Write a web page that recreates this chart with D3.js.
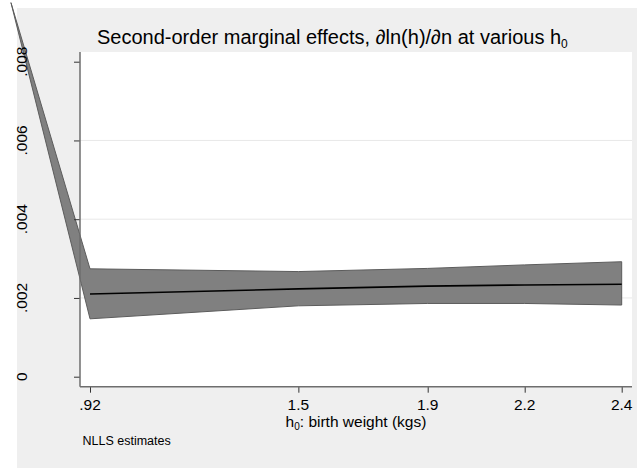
<!DOCTYPE html>
<html>
<head>
<meta charset="utf-8">
<script src="https://cdn.jsdelivr.net/npm/d3@7"></script>
<style>
  body { margin: 0; background: #ffffff; }
  svg text { font-family: "Liberation Sans", Arial, sans-serif; fill: #000; }
</style>
</head>
<body>
<div class="chart"></div>
<script>
// Data (first point has no visible point estimate)
var h0    = [0.70, 0.92, 1.5, 1.86, 2.13, 2.4];
var est   = [null, 0.0021, 0.00223, 0.00230, 0.00233, 0.002347];
var upper = [0.0095, 0.00274, 0.00267, 0.00275, 0.00284, 0.00292];
var lower = [0.0095, 0.00147, 0.00180, 0.00186, 0.00186, 0.00182];

var xTicks = [0.92, 1.5, 1.86, 2.13, 2.4];
var xTickLabels = [".92", "1.5", "1.9", "2.2", "2.4"];
var yTicks = [0, 0.002, 0.004, 0.006, 0.008];
var yTickLabels = ["0", ".002", ".004", ".006", ".008"];
var yGrid = [0.002, 0.004, 0.006];

// Set up chart
var svgWidth = 637;
var svgHeight = 468;
var panel = {left: 17, top: 8};
var plot = {left: 80, top: 52, right: 632, bottom: 386.7};
var pad = 10;

var svg = d3
  .select('.chart')
  .append('svg')
  .attr('width', svgWidth)
  .attr('height', svgHeight);

// outer gray panel and white plot region
svg.append('rect')
  .attr('x', panel.left).attr('y', panel.top)
  .attr('width', svgWidth - panel.left).attr('height', svgHeight - panel.top)
  .attr('fill', '#efefef');

svg.append('rect')
  .attr('x', plot.left).attr('y', plot.top)
  .attr('width', plot.right - plot.left).attr('height', plot.bottom - plot.top)
  .attr('fill', '#ffffff');

// scales
var x = d3.scaleLinear().domain([0.92, 2.4]).range([plot.left + pad, plot.right - pad - 0.3]);
var y = d3.scaleLinear().domain([0, 0.008]).range([plot.bottom - pad, plot.top + pad - 0.3]);

// grid lines
svg.append('g').selectAll('line')
  .data(yGrid)
  .enter()
  .append('line')
  .attr('x1', plot.left).attr('x2', plot.right)
  .attr('y1', function(d) { return y(d); })
  .attr('y2', function(d) { return y(d); })
  .attr('stroke', '#e8e8e8')
  .attr('stroke-width', 1);

var rows = h0.map(function(d, i) {
  return {h: d, est: est[i], hi: upper[i], lo: lower[i]};
});

// confidence band
var area = d3.area()
  .x(function(d) { return x(d.h); })
  .y0(function(d) { return y(d.lo); })
  .y1(function(d) { return y(d.hi); });

svg.append('path')
  .datum(rows)
  .attr('d', area)
  .attr('fill', '#808080')
  .attr('stroke', '#5c5c5c')
  .attr('stroke-width', 1)
  .attr('stroke-linejoin', 'miter');

// point estimate line
var line = d3.line()
  .defined(function(d) { return d.est != null; })
  .x(function(d) { return x(d.h); })
  .y(function(d) { return y(d.est); });

svg.append('path')
  .datum(rows)
  .attr('d', line)
  .attr('fill', 'none')
  .attr('stroke', '#000000')
  .attr('stroke-width', 1.6);

// y axis
var leftAxis = d3.axisLeft(y).tickValues(yTicks).tickSize(6).tickFormat('');
var gy = svg.append('g')
  .attr('transform', 'translate(' + plot.left + ',0)')
  .call(leftAxis);
gy.select('.domain').remove();
gy.selectAll('.tick line').attr('stroke', '#333').attr('stroke-width', 1);
svg.append('line')
  .attr('x1', plot.left).attr('x2', plot.left)
  .attr('y1', plot.top).attr('y2', plot.bottom)
  .attr('stroke', '#6e6e6e').attr('stroke-width', 1.5);

svg.append('g').selectAll('text')
  .data(yTicks)
  .enter()
  .append('text')
  .attr('transform', function(d) { return 'translate(27,' + y(d) + ') rotate(-90)'; })
  .attr('text-anchor', 'middle')
  .style('font-size', '15.5px')
  .text(function(d, i) { return yTickLabels[i]; });

// x axis
var bottomAxis = d3.axisBottom(x).tickValues(xTicks).tickSize(6).tickFormat('');
var gx = svg.append('g')
  .attr('transform', 'translate(0,' + plot.bottom + ')')
  .call(bottomAxis);
gx.select('.domain').remove();
gx.selectAll('.tick line').attr('stroke', '#333').attr('stroke-width', 1);
svg.append('line')
  .attr('x1', plot.left).attr('x2', plot.right)
  .attr('y1', plot.bottom).attr('y2', plot.bottom)
  .attr('stroke', '#6e6e6e').attr('stroke-width', 1.5);

svg.append('g').selectAll('text')
  .data(xTicks)
  .enter()
  .append('text')
  .attr('x', function(d) { return x(d); })
  .attr('y', 410)
  .attr('text-anchor', 'middle')
  .style('font-size', '15.5px')
  .text(function(d, i) { return xTickLabels[i]; });

// x title
var xt = svg.append('text')
  .attr('x', (plot.left + plot.right) / 2)
  .attr('y', 426.5)
  .attr('text-anchor', 'middle')
  .style('font-size', '15.5px');
xt.append('tspan').text('h');
xt.append('tspan').attr('dy', 3).style('font-size', '10px').text('0');
xt.append('tspan').attr('dy', -3).text(': birth weight (kgs)');

// title
var tt = svg.append('text')
  .attr('x', 97)
  .attr('y', 44)
  .style('font-size', '20px');
tt.append('tspan').text('Second-order marginal effects, \u2202ln(h)/\u2202n at various h');
tt.append('tspan').attr('dy', 4).style('font-size', '12px').text('0');

// note
svg.append('text')
  .attr('x', 82.5)
  .attr('y', 445)
  .style('font-size', '12.5px')
  .text('NLLS estimates');
</script>
</body>
</html>
